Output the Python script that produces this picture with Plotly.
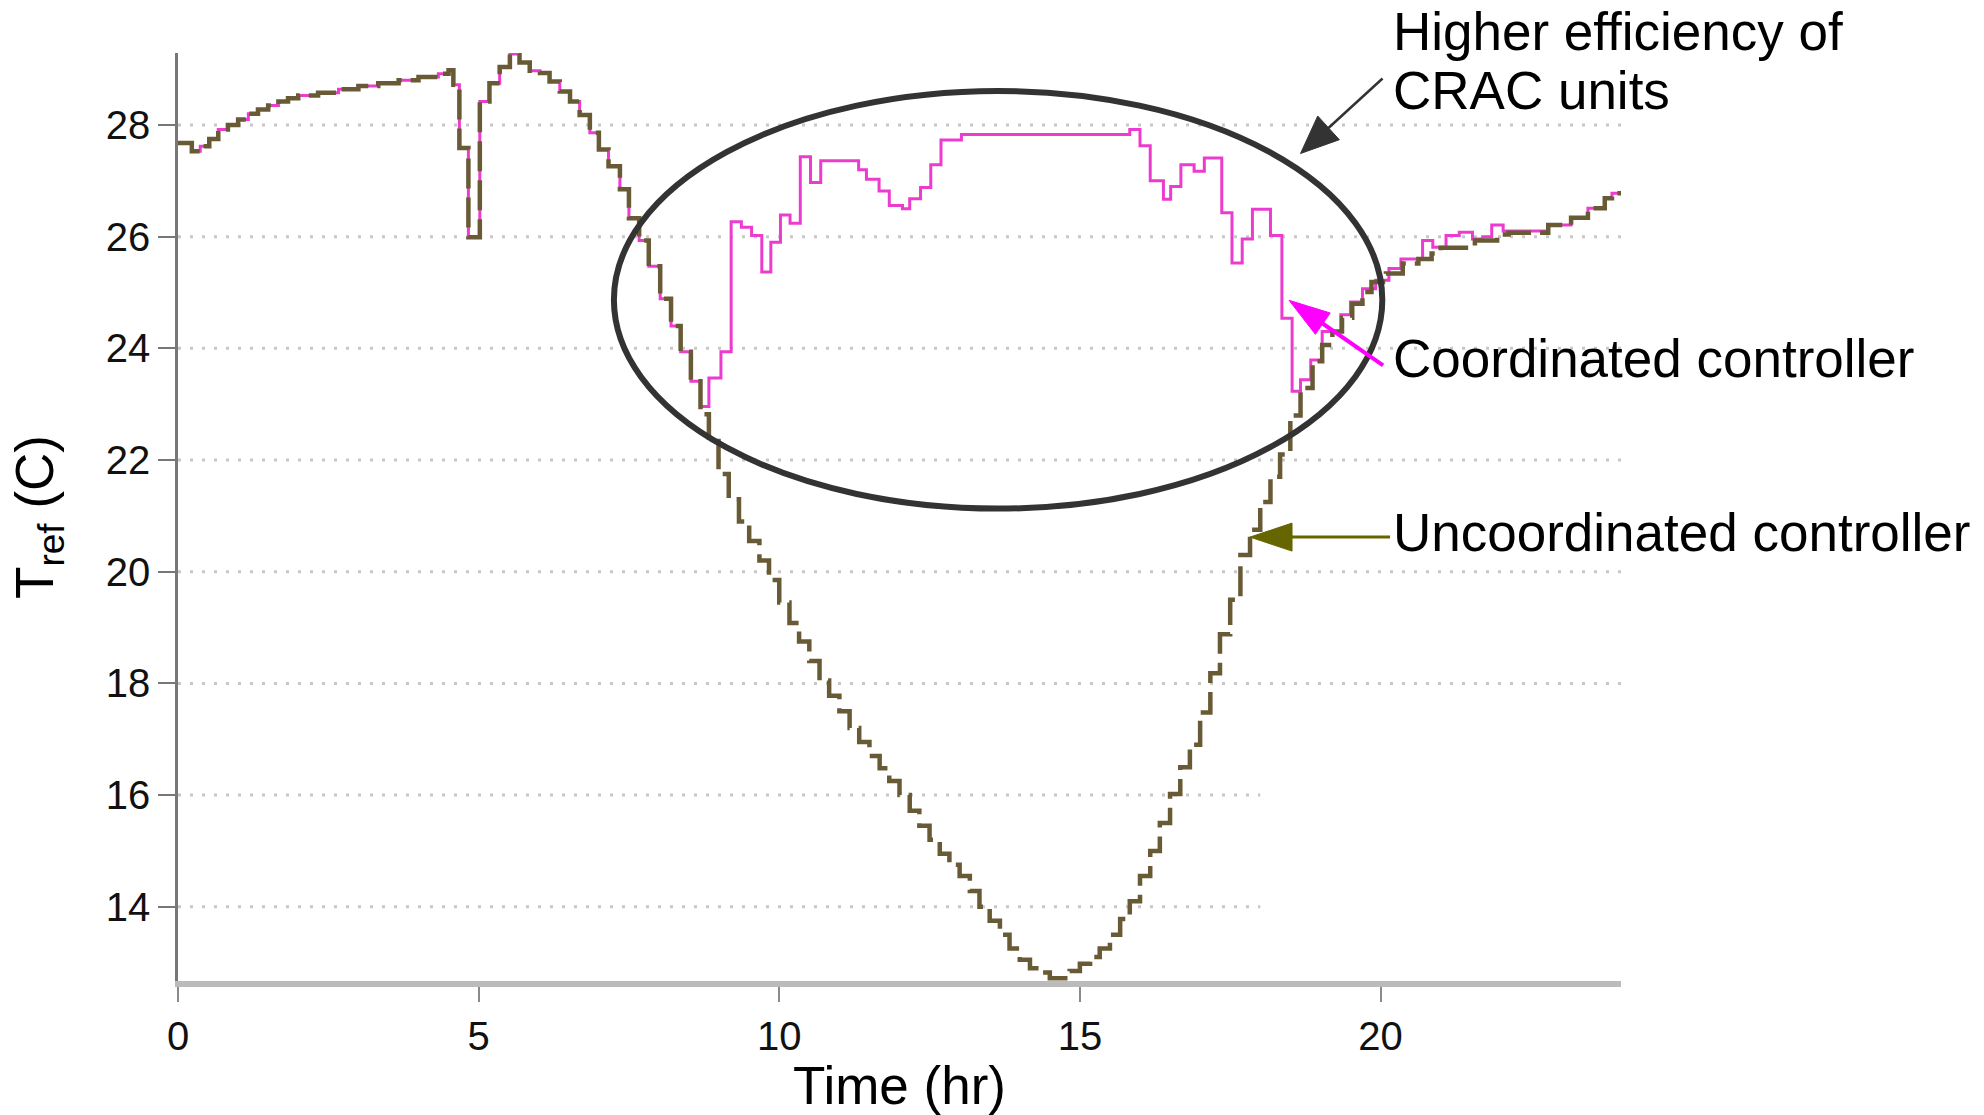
import math
import plotly.graph_objects as go

# ---------------- data ----------------
# Uncoordinated controller: step change times (hr) and T_ref (C)
unc_time = [0.00, 0.23, 0.37, 0.52, 0.67, 0.83, 1.00, 1.17, 1.33, 1.50, 1.67, 1.83,
            2.00, 2.33, 2.67, 3.00, 3.33, 3.67, 4.00, 4.33, 4.50, 4.58, 4.68, 4.83,
            5.02, 5.18, 5.35, 5.52, 5.68, 5.85, 6.02, 6.18, 6.35, 6.52, 6.68, 6.85,
            7.00, 7.16, 7.35, 7.50, 7.67, 7.83, 8.02, 8.20, 8.36, 8.53, 8.69, 8.83,
            8.99, 9.16, 9.33, 9.50, 9.67, 9.83, 10.00, 10.17, 10.33, 10.50, 10.67, 10.83,
            11.00, 11.17, 11.33, 11.50, 11.67, 11.83, 12.00, 12.17, 12.33, 12.50, 12.67, 12.83,
            13.00, 13.17, 13.33, 13.50, 13.67, 13.83, 14.00, 14.17, 14.33, 14.50, 14.83, 15.00,
            15.17, 15.33, 15.50, 15.67, 15.83, 16.00, 16.17, 16.33, 16.50, 16.67, 16.83, 17.00,
            17.17, 17.33, 17.50, 17.67, 17.83, 18.00, 18.17, 18.33, 18.50, 18.67, 18.87, 19.03,
            19.20, 19.36, 19.53, 19.70, 19.85, 20.09, 20.37, 20.63, 20.85, 21.00, 21.57, 21.94,
            22.13, 22.79, 23.17, 23.45, 23.73, 23.85, 24.00]
unc_temp = [27.68, 27.53, 27.62, 27.75, 27.92, 28.00, 28.10, 28.20, 28.28, 28.35, 28.42, 28.48,
            28.53, 28.58, 28.64, 28.70, 28.75, 28.80, 28.86, 28.92, 28.98, 28.72, 27.59, 25.99,
            28.42, 28.75, 29.04, 29.27, 29.12, 28.97, 28.93, 28.78, 28.60, 28.42, 28.18, 27.86,
            27.56, 27.26, 26.85, 26.33, 25.93, 25.47, 24.89, 24.40, 23.94, 23.41, 22.82, 22.34,
            21.75, 21.30, 20.90, 20.55, 20.20, 19.85, 19.45, 19.08, 18.75, 18.40, 18.05, 17.78,
            17.50, 17.20, 16.95, 16.70, 16.48, 16.25, 16.00, 15.72, 15.45, 15.20, 14.95, 14.75,
            14.55, 14.28, 14.00, 13.75, 13.50, 13.25, 13.05, 12.90, 12.82, 12.72, 12.85, 12.98,
            13.10, 13.25, 13.50, 13.78, 14.10, 14.55, 15.00, 15.50, 16.02, 16.50, 16.90, 17.48,
            18.18, 18.88, 19.50, 20.30, 20.75, 21.25, 21.70, 22.10, 22.80, 23.29, 23.77, 24.06,
            24.30, 24.55, 24.80, 25.01, 25.19, 25.34, 25.52, 25.60, 25.70, 25.80, 25.93, 26.04,
            26.07, 26.21, 26.34, 26.51, 26.69, 26.78, 26.80]

# Coordinated controller: step change times (hr) and T_ref (C)
coord_time = [0.00, 0.23, 0.37, 0.52, 0.67, 0.83, 1.00, 1.17, 1.33, 1.50, 1.67, 1.83,
              2.00, 2.33, 2.67, 3.00, 3.33, 3.67, 4.00, 4.33, 4.50, 4.58, 4.68, 4.83,
              5.02, 5.18, 5.35, 5.52, 5.68, 5.85, 6.02, 6.18, 6.35, 6.52, 6.68, 6.85,
              7.00, 7.16, 7.35, 7.50, 7.67, 7.83, 8.02, 8.20, 8.36, 8.53, 8.69, 8.83,
              9.03, 9.20, 9.37, 9.54, 9.71, 9.86, 10.02, 10.18, 10.35, 10.52, 10.69, 11.32,
              11.45, 11.66, 11.83, 12.05, 12.17, 12.35, 12.52, 12.69, 13.03, 15.83, 16.00, 16.17,
              16.39, 16.51, 16.68, 16.90, 17.07, 17.36, 17.53, 17.70, 17.87, 18.17, 18.36, 18.53,
              18.67, 18.84, 19.03, 19.34, 19.50, 19.70, 19.92, 20.14, 20.34, 20.70, 20.87, 21.09,
              21.31, 21.53, 21.70, 21.85, 22.04, 22.79, 23.17, 23.45, 23.73, 23.85, 24.00]
coord_temp = [27.68, 27.53, 27.62, 27.75, 27.92, 28.00, 28.10, 28.20, 28.28, 28.35, 28.42, 28.48,
              28.53, 28.58, 28.64, 28.70, 28.75, 28.80, 28.86, 28.92, 28.98, 28.72, 27.59, 25.99,
              28.42, 28.75, 29.04, 29.27, 29.12, 28.97, 28.93, 28.78, 28.60, 28.42, 28.18, 27.86,
              27.56, 27.26, 26.85, 26.33, 25.93, 25.47, 24.89, 24.40, 23.94, 23.41, 22.96, 23.47,
              23.94, 26.27, 26.17, 26.02, 25.37, 25.90, 26.39, 26.24, 27.43, 26.97, 27.36, 27.20,
              27.03, 26.82, 26.56, 26.50, 26.68, 26.88, 27.29, 27.73, 27.83, 27.92, 27.63, 27.00,
              26.67, 26.90, 27.29, 27.17, 27.41, 26.43, 25.53, 25.96, 26.49, 26.02, 24.54, 23.23,
              23.44, 23.79, 24.30, 24.60, 24.83, 25.07, 25.22, 25.43, 25.60, 25.93, 25.81, 26.02,
              26.08, 25.96, 26.00, 26.21, 26.10, 26.21, 26.34, 26.51, 26.69, 26.78, 26.80]

x_ticks = [0, 5, 10, 15, 20]
y_ticks = [14, 16, 18, 20, 22, 24, 26, 28]
grid_end = {14: 18.0, 16: 18.0}   # two short grid lines in the original

FONT = "Liberation Sans, Arial, Helvetica, sans-serif"

fig = go.Figure()
fig.add_trace(go.Scatter(x=coord_time, y=coord_temp, mode="lines", line_shape="hv",
                         line=dict(color="#ec3ccf", width=3), name="Coordinated controller",
                         showlegend=False))
fig.add_trace(go.Scatter(x=unc_time, y=unc_temp, mode="lines", line_shape="hv",
                         line=dict(color="#695a36", width=4.5, dash="30px,9px"),
                         name="Uncoordinated controller", showlegend=False))

# dotted grid lines
for v in y_ticks:
    fig.add_shape(type="line", xref="x", yref="y", x0=0, x1=grid_end.get(v, 24), y0=v, y1=v,
                  line=dict(color="#c8c8c8", width=3, dash="3px,9px"), layer="below")

# ellipse
fig.add_shape(type="circle", xref="x", yref="y", x0=7.25, x1=20.03, y0=21.13, y1=28.61,
              line=dict(color="#333333", width=6))


def add_arrow(tip_x, tip_y, dx, dy, head_len, head_half, width, color):
    d = math.hypot(dx, dy)
    ux, uy = dx / d, dy / d
    nx, ny = -uy, ux
    bx, by = head_len * ux, head_len * uy
    c1 = (bx + head_half * nx, by + head_half * ny)
    c2 = (bx - head_half * nx, by - head_half * ny)
    fig.add_shape(type="line", xref="x", yref="y", xsizemode="pixel", ysizemode="pixel",
                  xanchor=tip_x, yanchor=tip_y, x0=bx * 0.8, y0=by * 0.8, x1=dx, y1=dy,
                  line=dict(color=color, width=width))
    fig.add_shape(type="path", xref="x", yref="y", xsizemode="pixel", ysizemode="pixel",
                  xanchor=tip_x, yanchor=tip_y,
                  path=f"M0,0 L{c1[0]:.1f},{c1[1]:.1f} L{c2[0]:.1f},{c2[1]:.1f} Z",
                  fillcolor=color, line=dict(color=color, width=1))


add_arrow(18.67, 27.49, 82, 75, 38, 16, 2.5, "#333333")
add_arrow(18.48, 24.86, 94, -65, 41, 13, 4, "#ff00ff")
add_arrow(17.83, 20.62, 140, 0, 42, 14, 3, "#666600")

labels = [
    ("Higher efficiency of", 1.0236),
    ("CRAC units", 0.9599),
    ("Coordinated controller", 0.6713),
    ("Uncoordinated controller", 0.4829),
]
for txt, yp in labels:
    fig.add_annotation(x=20.17, y=yp, xref="x", yref="paper", text=txt, showarrow=False,
                       xanchor="left", yanchor="middle",
                       font=dict(family=FONT, size=53, color="black"))

fig.update_layout(
    width=1984, height=1115,
    margin=dict(l=178, r=363, t=53, b=128),
    paper_bgcolor="white", plot_bgcolor="white",
    showlegend=False,
    font=dict(family=FONT, color="#111111"),
)
fig.update_xaxes(range=[0, 24], tickvals=x_ticks, ticks="outside", ticklen=15, tickwidth=2,
                 tickcolor="#8a8a8a", showline=True, linecolor="#bbbbbb", linewidth=6,
                 showgrid=False, zeroline=False, tickfont=dict(size=40, family=FONT),
                 title=dict(text="Time (hr)", font=dict(size=53, family=FONT, color="black"),
                            standoff=8))
fig.update_yaxes(range=[12.67, 29.29], tickvals=y_ticks, ticks="outside", ticklen=17, tickwidth=2,
                 tickcolor="#777777", showline=True, linecolor="#777777", linewidth=2.5,
                 showgrid=False, zeroline=False, tickfont=dict(size=40, family=FONT),
                 title=dict(text="T<sub>ref</sub> (C)", font=dict(size=53, family=FONT, color="black"),
                            standoff=36))

fig.write_html("out.html")
